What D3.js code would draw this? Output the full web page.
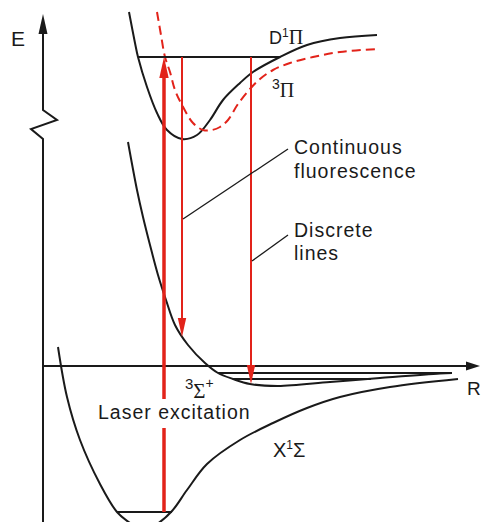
<!DOCTYPE html>
<html>
<head>
<meta charset="utf-8">
<script src="https://cdn.jsdelivr.net/npm/d3@7"></script>
<style>
  body { margin: 0; background: #fff; }
  svg { display: block; }
</style>
</head>
<body>
<div id="chart"></div>
<script>
// potential curves, [R, E] in arbitrary units (E = 0 at dissociation)
var groundState = [[0.375, 0.475], [0.6, -0.775], [0.925, -1.85], [1.425, -2.95], [1.85, -3.65],
                   [2.175, -3.925], [2.5, -4.1], [2.85, -3.95], [3.225, -3.625], [3.6, -3.1],
                   [4.1, -2.45], [4.925, -1.85], [5.75, -1.425], [6.6, -1.05], [7.425, -0.775],
                   [8.675, -0.525], [10.375, -0.325]];

var tripletSigma = [[2.125, 5.6], [2.35, 4.4], [2.5, 3.725], [2.675, 3.025], [2.875, 2.275],
                    [3.075, 1.65], [3.3, 1.025], [3.625, 0.525], [4.05, 0.075],
                    [4.375, -0.175], [4.75, -0.325], [5.175, -0.45], [5.875, -0.5], [7.175, -0.4],
                    [8.425, -0.3], [9.925, -0.1875], [10.225, -0.175]];

var singletPi = [[2.15, 8.85], [2.3, 8.075], [2.375, 7.725], [2.6, 6.975], [2.85, 6.325],
                 [3.1, 5.9], [3.475, 5.675], [3.85, 5.775], [4.175, 6.15], [4.5, 6.65],
                 [4.925, 7.075], [5.25, 7.35], [5.925, 7.725], [6.6, 8.025], [7.425, 8.2],
                 [8.35, 8.275]];

var tripletPi = [[2.85, 8.85], [2.95, 8.275], [3.05, 7.725], [3.175, 7.35], [3.3, 6.9],
                 [3.475, 6.525], [3.75, 6.075], [4.0, 5.9], [4.225, 5.9], [4.425, 5.975],
                 [4.625, 6.15], [4.875, 6.55], [5.175, 6.925], [5.425, 7.175], [5.75, 7.4],
                 [6.175, 7.575], [6.75, 7.725], [7.425, 7.85], [8.35, 7.925]];

// vibrational levels: energy and the two turning points
var levels = [{e: -3.65, r0: 1.85, r1: 3.225},
              {e: 7.725, r0: 2.375, r1: 5.925},
              {e: -0.175, r0: 4.375, r1: 10.225},
              {e: -0.325, r0: 4.75, r1: 8.2}];

// transitions (red arrows)
var transitions = [{name: "laser", r: 3.025, from: -3.65, to: 7.725, gap: [-0.825, -1.55]},
                   {name: "continuous", r: 3.475, from: 7.725, to: 0.725, gap: null},
                   {name: "discrete", r: 5.2, from: 7.725, to: -0.45, gap: null}];

// leader lines from the labels to the arrows
var leaders = [{r0: 3.5, e0: 3.675, r1: 6.125, e1: 5.425},
               {r0: 5.225, e0: 2.625, r1: 6.125, e1: 3.275}];

var width = 481, height = 522;
var red = "#e2231a", ink = "#1a1a1a";
var sans = "'Liberation Sans', Arial, sans-serif";
var serif = "'Liberation Serif', 'Times New Roman', serif";

var x = d3.scaleLinear().domain([0, 11]).range([43, 483]);
var y = d3.scaleLinear().domain([-4, 9]).range([526, 6]);

var svg = d3.select('#chart')
  .append('svg')
  .attr('width', width)
  .attr('height', height);

// axes: E with a break, R along E = 0
var ax = x(0);
var brk = y(6.4);
svg.append("path")
  .attr("d", "M" + ax + "," + height + "L" + ax + "," + (brk + 29) +
             "L" + (ax - 12) + "," + (brk + 19) + "L" + (ax + 14) + "," + (brk + 10) +
             "L" + ax + "," + brk + "L" + ax + "," + (y(8.8) + 18))
  .attr("fill", "none").attr("stroke", ink).attr("stroke-width", 2);
svg.append("path")
  .attr("d", "M" + ax + "," + y(8.8) + "l-4.5,20l9,0z")
  .attr("fill", ink);

svg.append("line")
  .attr("x1", ax).attr("x2", x(10.925) - 12)
  .attr("y1", y(0)).attr("y2", y(0))
  .attr("stroke", ink).attr("stroke-width", 2);
svg.append("path")
  .attr("d", "M" + x(10.925) + "," + y(0) + "l-14,-4.5l0,9z")
  .attr("fill", ink);

// curves
var line = d3.line()
  .x(function(d) { return x(d[0]); })
  .y(function(d) { return y(d[1]); })
  .curve(d3.curveCatmullRom.alpha(0.5));

[groundState, tripletSigma, singletPi].forEach(function(c) {
  svg.append("path")
    .attr("d", line(c))
    .attr("fill", "none").attr("stroke", ink).attr("stroke-width", 2);
});
svg.append("path")
  .attr("d", line(tripletPi))
  .attr("fill", "none").attr("stroke", red).attr("stroke-width", 2)
  .attr("stroke-dasharray", "9,5");

svg.selectAll("line.level")
  .data(levels)
  .enter()
  .append("line")
  .attr("class", "level")
  .attr("x1", function(d) { return x(d.r0); })
  .attr("x2", function(d) { return x(d.r1); })
  .attr("y1", function(d) { return y(d.e); })
  .attr("y2", function(d) { return y(d.e); })
  .attr("stroke", ink).attr("stroke-width", 2);

// arrows
transitions.forEach(function(t) {
  var thick = t.name == "laser";
  var up = t.to > t.from;
  var head = thick ? 21 : 19, half = thick ? 4.7 : 4.2;
  var tipY = y(t.to);
  var baseY = up ? tipY + head : tipY - head;
  var segs = t.gap ? [[y(t.from), y(t.gap[1])], [y(t.gap[0]), baseY]] : [[y(t.from), baseY]];
  segs.forEach(function(s) {
    svg.append("line")
      .attr("x1", x(t.r)).attr("x2", x(t.r))
      .attr("y1", s[0]).attr("y2", s[1])
      .attr("stroke", red).attr("stroke-width", thick ? 3.5 : 2);
  });
  svg.append("path")
    .attr("d", "M" + x(t.r) + "," + tipY + "L" + (x(t.r) - half) + "," + baseY +
               "L" + (x(t.r) + half) + "," + baseY + "Z")
    .attr("fill", red);
});

svg.selectAll("line.leader")
  .data(leaders)
  .enter()
  .append("line")
  .attr("x1", function(d) { return x(d.r0); })
  .attr("y1", function(d) { return y(d.e0); })
  .attr("x2", function(d) { return x(d.r1); })
  .attr("y2", function(d) { return y(d.e1); })
  .attr("stroke", ink).attr("stroke-width", 1.3);

// labels
function label(px, py, parts) {
  var t = svg.append("text").attr("x", px).attr("y", py).attr("fill", ink);
  parts.forEach(function(p) {
    t.append("tspan")
      .attr("font-family", p.serif ? serif : sans)
      .attr("font-size", p.size || 19.5)
      .attr("dy", p.dy || 0)
      .attr("letter-spacing", p.ls || 0)
      .text(p.s);
  });
  return t;
}

label(11, 46, [{s: "E", size: 21}]);
label(467, 395, [{s: "R", size: 19}]);
label(269, 44, [{s: "D", size: 18}, {s: "1", size: 12, dy: -7}, {s: "Π", serif: true, size: 20, dy: 7}]);
label(272, 97, [{s: "3", size: 14, dy: -8}, {s: "Π", serif: true, size: 20, dy: 8}]);
label(185, 398, [{s: "3", size: 15, dy: -9}, {s: "Σ", serif: true, size: 21, dy: 9}, {s: "+", size: 14, dy: -10}]);
label(273, 457, [{s: "X", size: 20}, {s: "1", size: 12, dy: -8}, {s: "Σ", size: 20, dy: 8}]);
label(294, 154, [{s: "Continuous", ls: 1}]);
label(294, 178, [{s: "fluorescence", ls: 1}]);
label(294, 237, [{s: "Discrete", ls: 1}]);
label(294, 260, [{s: "lines", ls: 1}]);
label(98, 419, [{s: "Laser excitation", ls: 1}]);
</script>
</body>
</html>
